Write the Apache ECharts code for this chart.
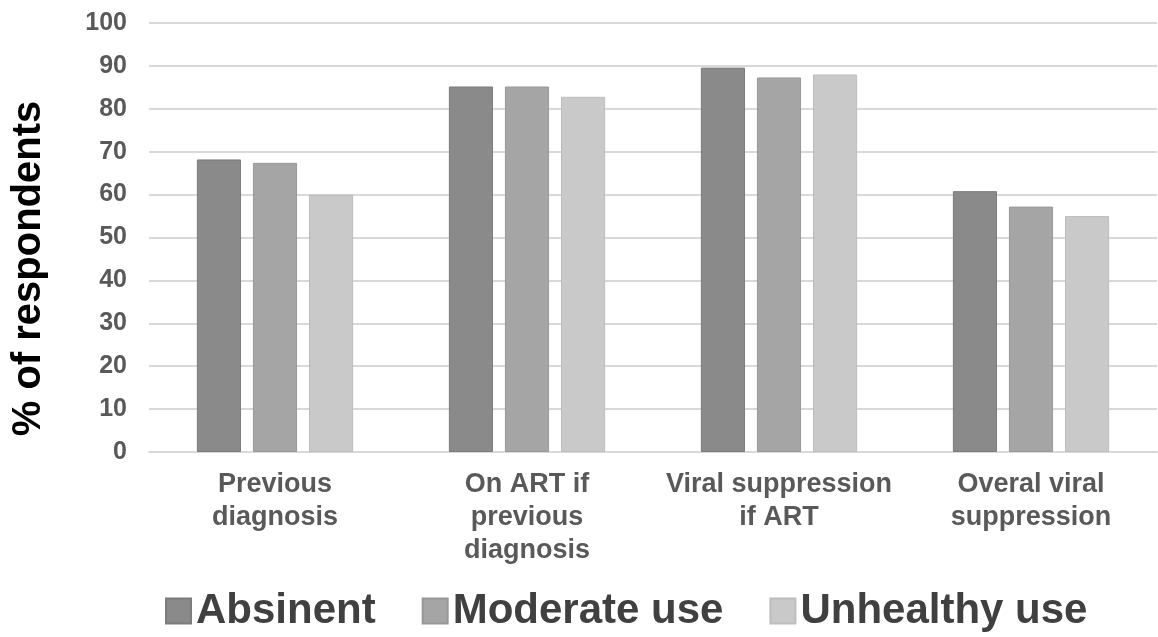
<!DOCTYPE html>
<html>
<head>
<meta charset="utf-8">
<script src="https://cdn.jsdelivr.net/npm/echarts@6/dist/echarts.min.js"></script>
<style>
  html, body { margin: 0; padding: 0; background: #fff; }
  #chart { width: 1158px; height: 637px; }
</style>
</head>
<body>
<div id="chart"></div>
<script>
// values
var categories = ['Previous\ndiagnosis', 'On ART if\nprevious\ndiagnosis', 'Viral suppression\nif ART', 'Overal viral\nsuppression'];
var absinent = [68.2, 85.2, 89.6, 60.8];
var moderateUse = [67.4, 85.2, 87.3, 57.2];
var unhealthyUse = [60, 82.8, 88, 55];
var seriesNames = ['Absinent', 'Moderate use', 'Unhealthy use'];
var seriesColors = ['#8a8a8a', '#a5a5a5', '#c9c9c9'];
var borderColors = ['#7c7c7c', '#989898', '#bdbdbd'];

var font = '"Liberation Sans", Arial, sans-serif';
var chart = echarts.init(document.getElementById('chart'));

function makeSeries(name, data, i) {
  return {
    name: name,
    type: 'bar',
    data: data,
    barGap: '27%',
    barCategoryGap: '38%',
    itemStyle: { color: seriesColors[i], borderColor: borderColors[i], borderWidth: 1 }
  };
}

chart.setOption({
  animation: false,
  textStyle: { fontFamily: font },
  grid: { left: 149, right: 1, top: 23, bottom: 185 },
  legend: {
    left: 160,
    top: 585,
    itemWidth: 25,
    itemHeight: 25,
    itemGap: 46,
    icon: 'rect',
    textStyle: { fontSize: 42, fontWeight: 'bold', color: '#404040', fontFamily: font }
  },
  xAxis: {
    type: 'category',
    data: categories,
    axisLine: { lineStyle: { color: '#d9d9d9', width: 2 } },
    axisTick: { show: false },
    axisLabel: {
      interval: 0,
      margin: 16,
      fontSize: 27,
      fontWeight: 'bold',
      color: '#595959',
      lineHeight: 33,
      fontFamily: font
    }
  },
  yAxis: {
    type: 'value',
    min: 0,
    max: 100,
    interval: 10,
    name: '% of respondents',
    nameLocation: 'middle',
    nameGap: 100,
    nameTextStyle: { fontSize: 40, fontWeight: 'bold', color: '#000', fontFamily: font, padding: [0, 62, 0, 0] },
    axisLine: { show: false },
    axisTick: { show: false },
    axisLabel: { fontSize: 25, fontWeight: 'bold', color: '#595959', margin: 22, fontFamily: font },
    splitLine: { lineStyle: { color: '#d9d9d9', width: 2 } }
  },
  series: [
    makeSeries(seriesNames[0], absinent, 0),
    makeSeries(seriesNames[1], moderateUse, 1),
    makeSeries(seriesNames[2], unhealthyUse, 2)
  ]
});
</script>
</body>
</html>
